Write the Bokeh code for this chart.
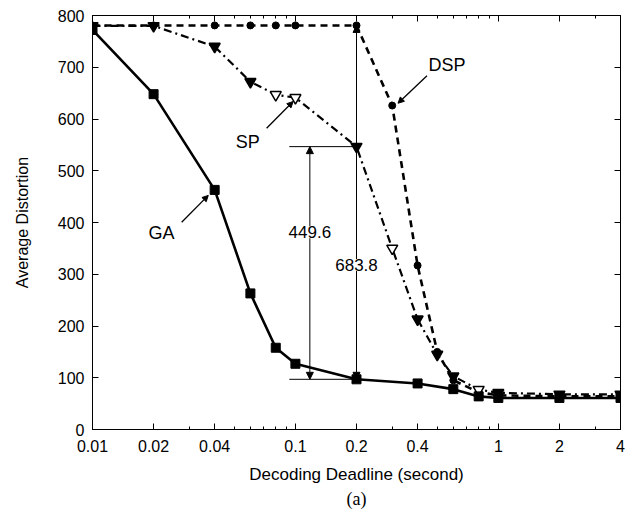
from bokeh.plotting import figure
from bokeh.models import (ColumnDataSource, LogAxis, LinearAxis, FixedTicker,
                          CustomJSTickFormatter, Label, Arrow, NormalHead, Title)
from bokeh.embed import file_html
from bokeh.resources import INLINE

# ---------------- data ----------------
ga_x = [0.01, 0.02, 0.04, 0.06, 0.08, 0.1, 0.2, 0.4, 0.6, 0.8, 1.0, 2.0, 4.0]
ga_y = [772, 648, 463, 263, 158, 127, 97, 89, 78, 64, 61, 61, 61]

sp_x = [0.01, 0.02, 0.04, 0.06, 0.08, 0.1, 0.2, 0.3, 0.4, 0.5, 0.6, 0.8, 1.0, 2.0, 4.0]
sp_y = [780, 780, 740, 672, 647, 641, 546.6, 350, 213, 145, 103, 77, 71, 68, 68]
sp_filled = [True, True, True, True, False, False, True, False, True, True, True, False, True, True, True]

dsp_x = [0.01, 0.02, 0.04, 0.06, 0.08, 0.1, 0.2, 0.3, 0.4, 0.5, 0.6, 0.8, 1.0, 2.0, 4.0]
dsp_y = [780.8, 780.8, 780.8, 780.8, 780.8, 780.8, 780.8, 626, 317, 150, 95, 72, 66, 64, 64]

x_major = [0.01, 0.02, 0.04, 0.1, 0.2, 0.4, 1, 2, 4]
x_minor = [0.03, 0.05, 0.06, 0.07, 0.08, 0.09, 0.3, 0.5, 0.6, 0.7, 0.8, 0.9, 3]
y_major = [0, 100, 200, 300, 400, 500, 600, 700, 800]

gap_sp_label = "449.6"
gap_dsp_label = "683.8"
x_title = "Decoding Deadline (second)"
y_title = "Average Distortion"
caption = "(a)"

# annotation anchor positions (data coords)
gap_ref_x = 0.2
gap_line_x0 = 0.0933
gap_sp_arrow_x = 0.1178
gap_sp_label_y = 381
gap_dsp_label_y = 318
sp_label_pos = (0.0583, 556)
sp_arrow = (0.0721, 582, 0.0974, 633.8)
dsp_label_pos = (0.558, 703.5)
dsp_arrow = (0.445, 683.5, 0.3204, 630.5)
ga_label_pos = (0.0219, 379)
ga_arrow = (0.0275, 400.6, 0.0372, 452.4)

FONT = "Liberation Sans"

p = figure(x_axis_type="log", x_range=(0.01, 4), y_range=(0, 800),
           frame_width=528, frame_height=414,
           min_border_left=92, min_border_right=10, min_border_top=15, min_border_bottom=80,
           output_backend="svg", toolbar_location=None,
           background_fill_color="white", border_fill_color="white")
p.xgrid.visible = False
p.ygrid.visible = False
p.outline_line_color = "black"
p.outline_line_width = 1

fmt = CustomJSTickFormatter(code="return tick.toString();")
blank = CustomJSTickFormatter(code="return '';")

def style_axis(ax, labels=True):
    ax.major_tick_in = 6
    ax.major_tick_out = 0
    ax.minor_tick_in = 3
    ax.minor_tick_out = 0
    ax.axis_line_color = "black"
    ax.major_tick_line_color = "black"
    ax.minor_tick_line_color = "black"
    if labels:
        ax.major_label_text_font = FONT
        ax.major_label_text_font_size = "16px"
        ax.major_label_text_color = "black"
    else:
        ax.formatter = blank
        ax.major_label_standoff = 0

xt = FixedTicker(ticks=x_major, minor_ticks=x_minor)
yt = FixedTicker(ticks=y_major, minor_ticks=[])

xa = p.xaxis[0]
xa.ticker = xt
xa.formatter = fmt
style_axis(xa)
xa.major_label_standoff = 10
xa.axis_label = x_title
xa.axis_label_text_font = FONT
xa.axis_label_text_font_size = "17px"
xa.axis_label_text_font_style = "normal"
xa.axis_label_text_color = "black"
xa.axis_label_standoff = 10

ya = p.yaxis[0]
ya.ticker = yt
style_axis(ya)
ya.major_label_standoff = 8
ya.axis_label = y_title
ya.axis_label_text_font = FONT
ya.axis_label_text_font_size = "16px"
ya.axis_label_text_font_style = "normal"
ya.axis_label_text_color = "black"
ya.axis_label_standoff = 24

top = LogAxis(ticker=FixedTicker(ticks=x_major, minor_ticks=x_minor))
style_axis(top, labels=False)
p.add_layout(top, "above")
right = LinearAxis(ticker=FixedTicker(ticks=y_major, minor_ticks=[]))
style_axis(right, labels=False)
p.add_layout(right, "right")

# ---------------- series ----------------
ga_src = ColumnDataSource(dict(x=ga_x, y=ga_y))
sp_src = ColumnDataSource(dict(x=sp_x, y=sp_y,
                               fc=["black" if f else "white" for f in sp_filled]))
dsp_src = ColumnDataSource(dict(x=dsp_x, y=dsp_y))

p.line("x", "y", source=dsp_src, line_color="black", line_width=2.6, line_dash="7 5")
p.line("x", "y", source=sp_src, line_color="black", line_width=2.2, line_dash="8 4 2 4")
p.line("x", "y", source=ga_src, line_color="black", line_width=2.6)

p.scatter("x", "y", source=dsp_src, marker="circle", size=7,
          fill_color="black", line_color="black")
p.scatter("x", "y", source=sp_src, marker="inverted_triangle", size=11,
          fill_color="fc", line_color="black", line_width=1.5)
p.scatter("x", "y", source=ga_src, marker="square", size=9,
          fill_color="black", line_color="black")

# ---------------- annotations ----------------
ga_at_ref = ga_y[ga_x.index(gap_ref_x)]
sp_at_ref = sp_y[sp_x.index(gap_ref_x)]
dsp_at_ref = dsp_y[dsp_x.index(gap_ref_x)]

p.segment(x0=[gap_line_x0, gap_line_x0], y0=[ga_at_ref, sp_at_ref],
          x1=[gap_ref_x, gap_ref_x], y1=[ga_at_ref, sp_at_ref],
          line_color="black", line_width=1)

def head():
    return NormalHead(size=7, fill_color="black", line_color="black", line_width=1)

p.add_layout(Arrow(start=head(), end=head(), x_start=gap_sp_arrow_x, y_start=ga_at_ref,
                   x_end=gap_sp_arrow_x, y_end=sp_at_ref, line_width=1, line_color="black"))
p.add_layout(Arrow(start=head(), end=head(), x_start=gap_ref_x, y_start=ga_at_ref,
                   x_end=gap_ref_x, y_end=dsp_at_ref, line_width=1, line_color="black"))

for txt, (lx, ly) in [(gap_sp_label, (gap_sp_arrow_x, gap_sp_label_y)),
                      (gap_dsp_label, (gap_ref_x, gap_dsp_label_y))]:
    p.add_layout(Label(x=lx, y=ly, text=txt, text_font=FONT, text_font_size="17px",
                       text_align="center", text_baseline="middle", text_color="black",
                       background_fill_color="white", background_fill_alpha=1.0))

for txt, (lx, ly), (ax0, ay0, ax1, ay1) in [("SP", sp_label_pos, sp_arrow),
                                             ("DSP", dsp_label_pos, dsp_arrow),
                                             ("GA", ga_label_pos, ga_arrow)]:
    p.add_layout(Label(x=lx, y=ly, text=txt, text_font=FONT, text_font_size="18px",
                       text_align="center", text_baseline="middle", text_color="black"))
    p.add_layout(Arrow(end=NormalHead(size=6, fill_color="black", line_color="black"),
                       x_start=ax0, y_start=ay0, x_end=ax1, y_end=ay1,
                       line_width=1.3, line_color="black"))

t2 = Title(text=caption, align="center", text_font="Liberation Serif",
           text_font_size="18px", text_font_style="normal", text_color="black",
           standoff=0)
p.add_layout(t2, "below")

open("out.html", "w").write(file_html(p, INLINE))
